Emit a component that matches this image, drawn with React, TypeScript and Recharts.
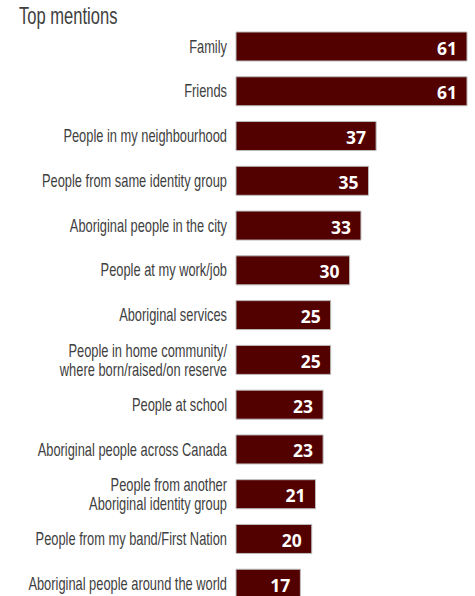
import React from "react";
import { BarChart, Bar, XAxis, YAxis, LabelList } from "recharts";

const categories: string[] = [
  "Family",
  "Friends",
  "People in my neighbourhood",
  "People from same identity group",
  "Aboriginal people in the city",
  "People at my work/job",
  "Aboriginal services",
  "People in home community/\nwhere born/raised/on reserve",
  "People at school",
  "Aboriginal people across Canada",
  "People from another\nAboriginal identity group",
  "People from my band/First Nation",
  "Aboriginal people around the world",
];

const values: number[] = [61, 61, 37, 35, 33, 30, 25, 25, 23, 23, 21, 20, 17];

const title = "Top mentions";

const data = categories.map((name, i) => ({ name, value: values[i] }));

const LABEL_FONT = "'Liberation Sans', Arial, sans-serif";

const CategoryTick = (props: any) => {
  const { x, y, payload } = props;
  const lines = String(payload.value).split("\n");
  const lh = 19;
  const start = -((lines.length - 1) * lh) / 2;
  return (
    <g transform={`translate(${x - 1},${y}) scale(0.735,1)`}>
      {lines.map((l, i) => (
        <text
          key={i}
          x={0}
          y={start + i * lh}
          textAnchor="end"
          dominantBaseline="central"
          fill="#404040"
          fontFamily={LABEL_FONT}
          fontSize={17.5}
        >
          {l}
        </text>
      ))}
    </g>
  );
};

const ValueLabel = (props: any) => {
  const { x, y, width, height, value } = props;
  return (
    <text
      x={x + width - 10}
      y={y + height / 2 + 1}
      textAnchor="end"
      dominantBaseline="central"
      fill="#ffffff"
      fontFamily="'Open Sans', sans-serif"
      fontWeight={700}
      fontSize={17.5}
    >
      {value}
    </text>
  );
};

export default function App() {
  return (
    <div style={{ position: "absolute", top: 0, left: 0, width: 475, height: 608 }}>
      <BarChart
        width={475}
        height={608}
        data={data}
        layout="vertical"
        margin={{ top: 24, right: 8, bottom: 2, left: 0 }}
      >
        <XAxis type="number" domain={[0, 61]} hide />
        <YAxis
          type="category"
          dataKey="name"
          width={236}
          axisLine={false}
          tickLine={false}
          tick={<CategoryTick />}
          interval={0}
        />
        <Bar
          dataKey="value"
          fill="#530000"
          stroke="#bcbcbc"
          strokeWidth={1}
          barSize={29}
          isAnimationActive={false}
        >
          <LabelList dataKey="value" content={<ValueLabel />} />
        </Bar>
      </BarChart>
      <svg
        width={200}
        height={32}
        style={{ position: "absolute", top: 0, left: 0 }}
      >
        <g transform="translate(19,24) scale(0.72,1)">
          <text x={0} y={0} fill="#404040" fontFamily={LABEL_FONT} fontSize={23}>
            {title}
          </text>
        </g>
      </svg>
    </div>
  );
}
